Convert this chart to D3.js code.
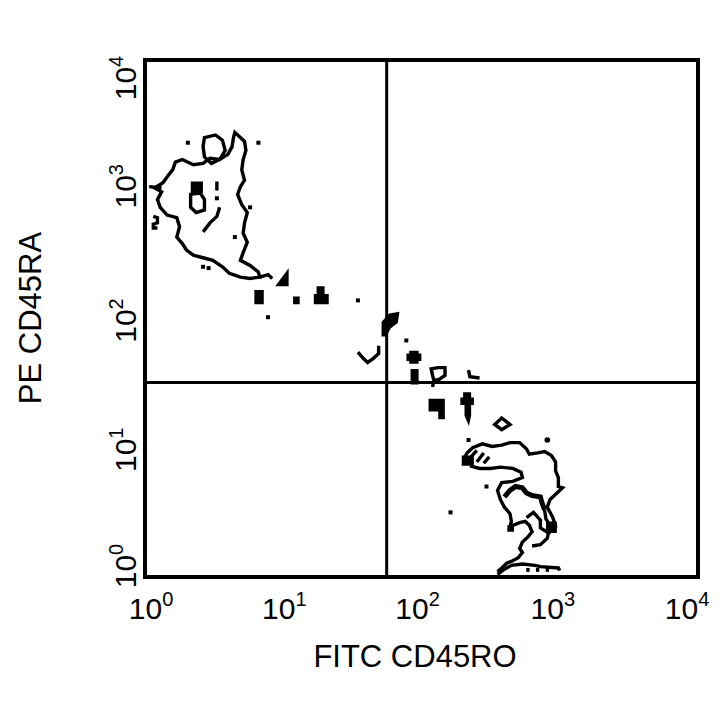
<!DOCTYPE html>
<html>
<head>
<meta charset="utf-8">
<script src="https://cdn.jsdelivr.net/npm/d3@7"></script>
<style>
  body { margin: 0; background: #fff; }
  text { font-family: "Liberation Sans", Arial, sans-serif; fill: #000; }
</style>
</head>
<body>
<svg id="chart" width="720" height="720"></svg>
<script>
// axis decades and titles
var xTicks = [1, 10, 100, 1000, 10000];
var yTicks = [1, 10, 100, 1000, 10000];
var xTitle = 'FITC CD45RO';
var yTitle = 'PE CD45RA';

// quadrant markers (fluorescence units)
var quadX = 56;
var quadY = 32;

// contour vertices in log10 units: [FITC, PE]
// CD45RA+ population (upper left)
var ulOuter = [[0.65,3.44],[0.69,3.40],[0.72,3.37],[0.73,3.30],[0.71,3.23],[0.70,3.15],[0.72,3.07],[0.69,3.02],[0.67,2.96],[0.70,2.88],[0.74,2.82],[0.72,2.74],[0.71,2.66],[0.74,2.59],[0.71,2.51],[0.69,2.45],[0.76,2.41],[0.82,2.36],[0.83,2.32],[0.76,2.31],[0.69,2.32],[0.61,2.35],[0.56,2.40],[0.49,2.45],[0.42,2.47],[0.35,2.49],[0.30,2.53],[0.27,2.58],[0.23,2.63],[0.25,2.71],[0.23,2.78],[0.16,2.80],[0.11,2.86],[0.09,2.92],[0.12,2.98],[0.07,3.01],[0.13,3.05],[0.17,3.11],[0.20,3.15],[0.22,3.21],[0.27,3.23],[0.35,3.19],[0.42,3.20],[0.47,3.24],[0.54,3.23],[0.60,3.27],[0.63,3.33],[0.64,3.40]];
var ulRingTop = [[0.43,3.40],[0.51,3.42],[0.56,3.38],[0.58,3.30],[0.54,3.23],[0.48,3.20],[0.43,3.25],[0.42,3.33]];
var ulRingLow = [[0.33,2.96],[0.40,2.97],[0.43,2.92],[0.43,2.84],[0.37,2.82],[0.33,2.86]];
var ulStroke = [[0.54,2.86],[0.52,2.79],[0.47,2.74],[0.42,2.67]];
var ulBar = [[0.52,3.06],[0.52,2.99]];
var ulEar = [[0.03,3.02],[0.12,3.01]];
var ulHook = [[0.06,2.79],[0.09,2.78],[0.09,2.74],[0.06,2.73],[0.06,2.70],[0.09,2.70]];
var ulTail = [[0.83,2.32],[0.89,2.34],[0.92,2.31]];

// transition region
var midV = [[1.54,1.74],[1.58,1.69],[1.61,1.66],[1.65,1.69],[1.69,1.73],[1.69,1.79]];
var midHook = [[2.08,1.47],[2.09,1.52],[2.08,1.56],[2.07,1.61],[2.12,1.62],[2.17,1.62],[2.17,1.56],[2.13,1.53],[2.09,1.52]];
var midL = [[2.34,1.60],[2.35,1.55],[2.42,1.54]];
var midDiamond = [[2.58,1.23],[2.64,1.18],[2.58,1.14],[2.53,1.18]];
var midPlusH = [[2.89,1.06],[2.93,1.06]];
var midPlusV = [[2.91,1.08],[2.91,1.04]];

// CD45RO+ population (lower right)
var lrOuter = [[2.31,0.92],[2.33,0.96],[2.37,1.00],[2.44,1.03],[2.51,1.01],[2.58,1.02],[2.64,1.04],[2.71,1.04],[2.76,0.99],[2.78,0.95],[2.84,0.96],[2.89,0.97],[2.94,0.94],[2.97,0.89],[2.97,0.82],[2.99,0.77],[2.99,0.70],[3.02,0.69],[2.98,0.65],[2.93,0.60],[2.91,0.54],[2.95,0.46],[2.97,0.39],[2.92,0.34],[2.86,0.38],[2.86,0.44],[2.81,0.50],[2.76,0.46]];
var lrInner = [[2.35,0.86],[2.42,0.84],[2.50,0.84],[2.57,0.85],[2.66,0.84],[2.72,0.81],[2.73,0.77],[2.66,0.74],[2.58,0.73],[2.55,0.67],[2.57,0.60],[2.60,0.54],[2.64,0.49],[2.65,0.43],[2.64,0.39],[2.71,0.42],[2.75,0.43],[2.78,0.40],[2.80,0.35],[2.77,0.31],[2.73,0.27],[2.71,0.22],[2.73,0.19],[2.70,0.15],[2.65,0.12],[2.62,0.11],[2.58,0.07],[2.55,0.04]];
var lrCore = [[2.60,0.62],[2.64,0.67],[2.68,0.70],[2.73,0.69],[2.76,0.65],[2.80,0.63],[2.86,0.62],[2.87,0.58],[2.89,0.52]];
var lrRight = [[2.89,0.52],[2.90,0.45],[2.93,0.40],[2.91,0.30],[2.86,0.25],[2.80,0.24]];
var lrHatch1 = [[2.40,0.98],[2.35,0.92]];
var lrHatch2 = [[2.45,0.96],[2.40,0.89]];
var lrHatch3 = [[2.49,0.93],[2.45,0.88]];
var lrBase = [[2.55,0.02],[2.60,0.06],[2.65,0.09],[2.73,0.10],[2.82,0.09],[2.86,0.08],[2.99,0.07],[3.00,0.05]];
var lrTick1 = [[2.77,0.07],[2.77,0.04]];
var lrTick2 = [[2.84,0.07],[2.84,0.04]];
var lrTick3 = [[2.91,0.07],[2.91,0.04]];

// small dense spots drawn filled
var blobUl = [[0.34,3.05],[0.41,3.05],[0.41,2.98],[0.34,2.98]];
var blobTri = [[1.03,2.36],[1.03,2.26],[0.96,2.26]];
var blobA = [[0.80,2.21],[0.85,2.21],[0.85,2.12],[0.80,2.12]];
var blobB = [[1.08,2.16],[1.11,2.16],[1.11,2.12],[1.08,2.12]];
var blobC = [[1.23,2.12],[1.23,2.18],[1.25,2.18],[1.25,2.24],[1.29,2.24],[1.29,2.18],[1.32,2.18],[1.32,2.12]];
var blobD = [[1.72,1.97],[1.77,2.03],[1.83,2.04],[1.82,1.97],[1.77,1.93],[1.74,1.87],[1.72,1.87]];
var blobPlus = [[1.92,1.74],[1.97,1.74],[1.97,1.72],[1.99,1.72],[1.99,1.68],[1.97,1.68],[1.97,1.66],[1.92,1.66],[1.92,1.68],[1.90,1.68],[1.90,1.72],[1.92,1.72]];
var blobBar = [[1.93,1.60],[1.97,1.60],[1.97,1.50],[1.93,1.50]];
var blobFlag = [[2.06,1.37],[2.16,1.37],[2.16,1.23],[2.13,1.23],[2.13,1.29],[2.06,1.29]];
var blobStack = [[2.31,1.42],[2.35,1.42],[2.35,1.38],[2.37,1.38],[2.37,1.34],[2.35,1.34],[2.35,1.25],[2.34,1.20],[2.32,1.25],[2.32,1.34],[2.29,1.34],[2.29,1.38],[2.31,1.38]];
var blobLr1 = [[2.30,0.93],[2.37,0.93],[2.37,0.87],[2.30,0.87]];
var blobLr2 = [[2.63,0.39],[2.66,0.39],[2.66,0.36],[2.63,0.36]];
var blobLr3 = [[2.91,0.42],[2.97,0.42],[2.97,0.35],[2.91,0.35]];

// isolated events
var events = [[0.31,3.36],[0.82,3.36],[0.52,2.93],[0.76,2.86],[0.65,2.63],[0.42,2.40],[0.46,2.39],[0.89,2.01],[1.54,2.14],[1.89,1.83],[2.34,1.06],[2.21,0.50],[2.47,0.70]];

var openLines = [ulStroke, ulBar, ulEar, ulHook, ulTail, midV, midHook, midL, midPlusH, midPlusV,
    lrOuter, lrInner, lrRight, lrHatch1, lrHatch2, lrHatch3, lrBase, lrTick1, lrTick2, lrTick3];
var closedLines = [ulOuter, ulRingTop, ulRingLow, midDiamond];
var blobs = [blobUl, blobTri, blobA, blobB, blobC, blobD, blobPlus, blobBar, blobFlag, blobStack, blobLr1, blobLr2, blobLr3];

var svg = d3.select('#chart');
svg.append('rect').attr('width', 720).attr('height', 720).attr('fill', '#fff');

var x = d3.scaleLog().domain([1, 10000]).range([145, 698]);
var y = d3.scaleLog().domain([1, 10000]).range([577, 60]);
var px = d => x(Math.pow(10, d[0]));
var py = d => y(Math.pow(10, d[1]));

var line = d3.line().x(px).y(py);
var loop = d3.line().x(px).y(py).curve(d3.curveLinearClosed);

svg.append('clipPath').attr('id', 'plotClip')
    .append('rect')
    .attr('x', x(1)).attr('y', y(10000))
    .attr('width', x(10000) - x(1)).attr('height', y(1) - y(10000));

var plot = svg.append('g').attr('clip-path', 'url(#plotClip)');

plot.selectAll('.blob')
    .data(blobs)
    .enter().append('path')
    .attr('class', 'blob')
    .attr('d', loop)
    .attr('fill', '#000')
    .attr('stroke', '#000')
    .attr('stroke-width', 2.5);

plot.selectAll('.open')
    .data(openLines)
    .enter().append('path')
    .attr('class', 'open')
    .attr('d', line)
    .attr('fill', 'none')
    .attr('stroke', '#000')
    .attr('stroke-width', 3.4)
    .attr('stroke-linejoin', 'miter');

plot.selectAll('.closed')
    .data(closedLines)
    .enter().append('path')
    .attr('class', 'closed')
    .attr('d', loop)
    .attr('fill', 'none')
    .attr('stroke', '#000')
    .attr('stroke-width', 3.4)
    .attr('stroke-linejoin', 'miter');

plot.append('path').datum(lrCore)
    .attr('d', line)
    .attr('fill', 'none')
    .attr('stroke', '#000')
    .attr('stroke-width', 5);

plot.selectAll('.event')
    .data(events)
    .enter().append('rect')
    .attr('class', 'event')
    .attr('x', d => px(d) - 2)
    .attr('y', d => py(d) - 2)
    .attr('width', 4)
    .attr('height', 4)
    .attr('fill', '#000');

// quadrant lines
svg.append('line')
    .attr('x1', x(quadX)).attr('x2', x(quadX))
    .attr('y1', y(1)).attr('y2', y(10000))
    .attr('stroke', '#000').attr('stroke-width', 3);
svg.append('line')
    .attr('x1', x(1)).attr('x2', x(10000))
    .attr('y1', y(quadY)).attr('y2', y(quadY))
    .attr('stroke', '#000').attr('stroke-width', 3);

// frame
svg.append('rect')
    .attr('x', x(1)).attr('y', y(10000))
    .attr('width', x(10000) - x(1)).attr('height', y(1) - y(10000))
    .attr('fill', 'none')
    .attr('stroke', '#000')
    .attr('stroke-width', 4);

// tick labels as 10^n
var xNudge = [6, 1, -4, -7, -11];
var xLabels = svg.selectAll('.xlab')
    .data(xTicks)
    .enter().append('text')
    .attr('class', 'xlab')
    .attr('x', (d, i) => x(d) + xNudge[i])
    .attr('y', 619)
    .attr('text-anchor', 'middle')
    .style('font-size', '30px');
xLabels.append('tspan').text('10');
xLabels.append('tspan').attr('dy', -13).style('font-size', '20px').text(d => Math.round(Math.log10(d)));

var yNudge = [-11, 2, 2, -3, 18];
var yLabels = svg.selectAll('.ylab')
    .data(yTicks)
    .enter().append('text')
    .attr('class', 'ylab')
    .attr('transform', (d, i) => 'translate(136,' + (y(d) + yNudge[i]) + ') rotate(-90)')
    .attr('text-anchor', 'middle')
    .style('font-size', '30px');
yLabels.append('tspan').text('10');
yLabels.append('tspan').attr('dy', -13).style('font-size', '20px').text(d => Math.round(Math.log10(d)));

// axis titles
svg.append('text')
    .attr('x', 415)
    .attr('y', 667)
    .attr('text-anchor', 'middle')
    .style('font-size', '31px')
    .text(xTitle);

svg.append('text')
    .attr('transform', 'translate(41,318) rotate(-90)')
    .attr('text-anchor', 'middle')
    .style('font-size', '31px')
    .text(yTitle);
</script>
</body>
</html>
